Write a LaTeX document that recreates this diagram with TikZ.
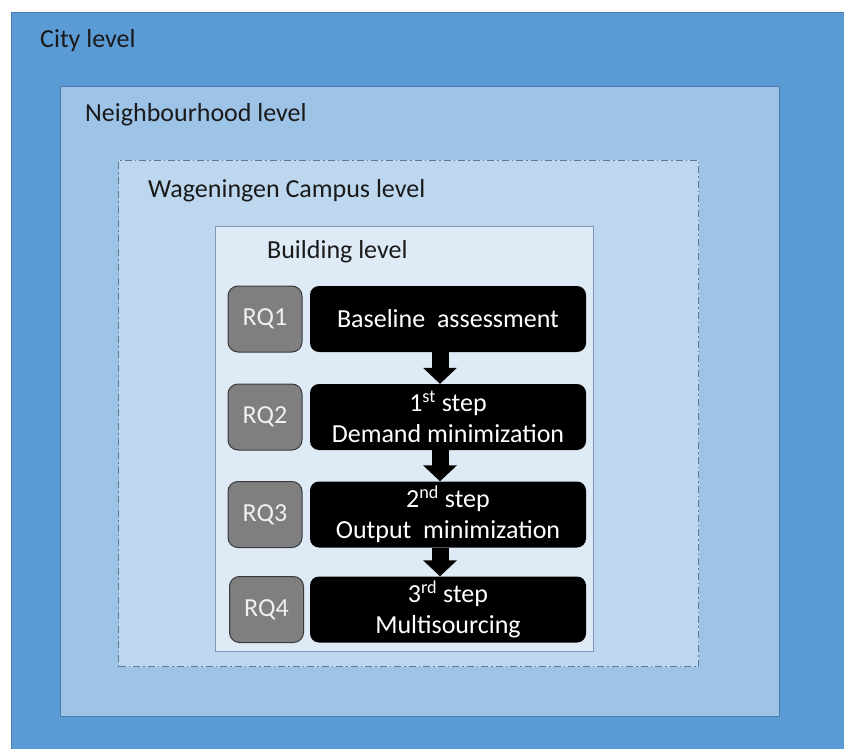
\documentclass[tikz,border=0pt]{standalone}
\usepackage{fontspec}
\setmainfont{Carlito}
\usetikzlibrary{arrows.meta}

\definecolor{cityblue}{HTML}{5B9BD5}
\definecolor{hoodblue}{HTML}{9DC3E6}
\definecolor{campusblue}{HTML}{BDD7EE}
\definecolor{buildblue}{HTML}{DEEBF7}
\definecolor{levelline}{HTML}{4A7BAE}
\definecolor{campusline}{HTML}{5F7894}
\definecolor{buildline}{HTML}{7E98B8}
\definecolor{rqgray}{HTML}{7F7F7F}
\definecolor{rqline}{HTML}{3A3A3A}
\definecolor{labeltext}{HTML}{1A1A1A}

\tikzset{
  levelbox/.style={draw=levelline, line width=1.2pt, anchor=north west, inner sep=0pt},
  levellabel/.style={anchor=west, inner sep=0pt, text=labeltext, font=\fontsize{26}{31}\selectfont},
  rqbox/.style={draw=rqline, line width=1pt, fill=rqgray, rounded corners=10pt, minimum width=74pt,
    minimum height=66pt, inner sep=0pt, text=white!94!black, font=\fontsize{26}{31}\selectfont},
  stepbox/.style={fill=black, rounded corners=9pt, minimum width=276pt, minimum height=66pt,
    inner sep=0pt, text=white, align=center, font=\fontsize{26}{31}\selectfont},
  flowarrow/.style={line width=17pt, -{Triangle[width=33pt,length=16pt]}}
}

\begin{document}
\begin{tikzpicture}[x=1pt,y=-1pt]
    \useasboundingbox (0,0) rectangle (844,749);
    % Nested levels
    \node[levelbox, fill=cityblue, minimum width=840pt, minimum height=745pt] (city) at (11,12) {};
    \node[levelbox, fill=hoodblue, minimum width=719pt, minimum height=630pt] (hood) at (60,86) {};
    \node[levelbox, fill=campusblue, draw=campusline, line width=1pt,
          dash pattern=on 7pt off 3pt on 1.5pt off 3pt, minimum width=580pt, minimum height=506pt] (campus) at (118,160) {};
    \node[levelbox, fill=buildblue, draw=buildline, line width=1pt, minimum width=378pt, minimum height=425pt] (building) at (215,226) {};
    % Level labels
    \node[levellabel] (citylabel) at (40,41) {City level};
    \node[levellabel] (hoodlabel) at (85,115) {Neighbourhood level};
    \node[levellabel] (campuslabel) at (148,191) {Wageningen Campus level};
    \node[levellabel] (buildlabel) at (267,252) {Building level};
    % Research questions
    \node[rqbox] (rq1) at (265,319) {RQ1};
    \node[rqbox] (rq2) at (265,417) {RQ2};
    \node[rqbox] (rq3) at (265,514.5) {RQ3};
    \node[rqbox] (rq4) at (266.5,609.5) {RQ4};
    % Steps
    \node[stepbox] (base) at (448,319) {Baseline\ \ assessment};
    \node[stepbox] (step1) at (448,417) {1\textsuperscript{st} step\\Demand minimization};
    \node[stepbox] (step2) at (448,514.5) {2\textsuperscript{nd} step\\Output\ \ minimization};
    \node[stepbox] (step3) at (448,609.5) {3\textsuperscript{rd} step\\Multisourcing};
    % Flow
    \draw[flowarrow] ([xshift=-8pt]base.south) -- ([xshift=-8pt]step1.north);
    \draw[flowarrow] ([xshift=-8pt]step1.south) -- ([xshift=-8pt]step2.north);
    \draw[flowarrow] ([xshift=-8pt]step2.south) -- ([xshift=-8pt]step3.north);
\end{tikzpicture}
\end{document}
